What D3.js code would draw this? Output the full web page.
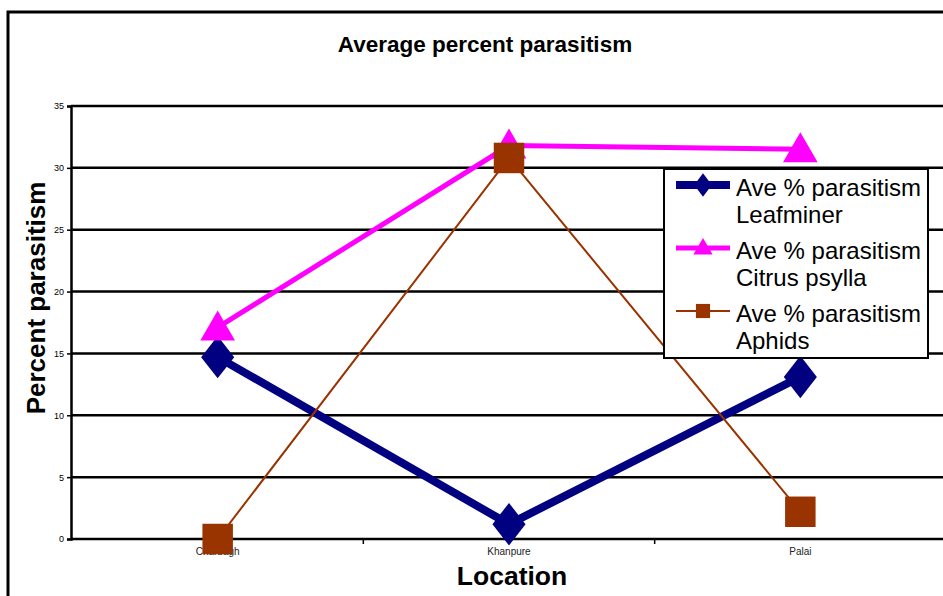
<!DOCTYPE html>
<html><head><meta charset="utf-8">
<script src="https://d3js.org/d3.v7.min.js"></script>
<style>body{margin:0;background:#fff;}svg{display:block;font-family:"Liberation Sans",Arial,sans-serif;}</style>
</head><body>
<svg id="c" width="943" height="596"></svg>
<script>
const categories = ["Charbagh","Khanpure","Palai"];
const leafminer = [14.7, 1.2, 13.1];
const citrusPsylla = [17.1, 31.8, 31.5];
const aphids = [0.0, 30.8, 2.2];
const yTicks = [0,5,10,15,20,25,30,35];
const seriesNames = ["Ave % parasitism Leafminer","Ave % parasitism Citrus psylla","Ave % parasitism Aphids"];

const svg = d3.select("#c");
// outer chart border
svg.append("rect").attr("x",8).attr("y",12).attr("width",960).attr("height",620)
  .attr("fill","none").attr("stroke","#000").attr("stroke-width",3);

const x = d3.scaleBand().domain(categories).range([72,946]);
const y = d3.scaleLinear().domain([0,35]).range([539,106]);

// gridlines
svg.append("g").selectAll("line").data(yTicks).join("line")
  .attr("x1",71).attr("x2",943).attr("y1",d=>y(d)).attr("y2",d=>y(d))
  .attr("stroke","#000").attr("stroke-width",2.5);

// y axis
const ya = svg.append("g").attr("transform","translate(71,0)")
  .call(d3.axisLeft(y).tickValues(yTicks).tickSize(4).tickPadding(3));
ya.select(".domain").attr("stroke","#000").attr("stroke-width",2.5);
ya.selectAll(".tick line").attr("stroke","#000").attr("stroke-width",1.5);
ya.selectAll("text").attr("font-size",9).attr("font-family","Liberation Sans, Arial").attr("fill","#000");

// x axis
const xa = svg.append("g").attr("transform","translate(0,539)")
  .call(d3.axisBottom(x).tickSize(0).tickPadding(9));
xa.select(".domain").remove();
xa.selectAll("text").attr("font-size",10).attr("font-family","Liberation Sans, Arial").attr("fill","#222");
// category boundary ticks
svg.append("g").selectAll("line").data(categories.slice(1)).join("line")
  .attr("x1",d=>x(d)).attr("x2",d=>x(d)).attr("y1",539).attr("y2",544)
  .attr("stroke","#000").attr("stroke-width",1.5);

const cx = c => x(c) + x.bandwidth()/2;
const line = d3.line().x(d=>cx(d.c)).y(d=>y(d.v));
const mk = arr => categories.map((c,i)=>({c, v:arr[i]}));

const series = [
  {name:seriesNames[0], data:mk(leafminer), color:"#000080", width:8, sym:d3.symbolDiamond, size:520},
  {name:seriesNames[1], data:mk(citrusPsylla), color:"#FF00FF", width:5, sym:d3.symbolTriangle, size:520},
  {name:seriesNames[2], data:mk(aphids), color:"#993300", width:2, sym:d3.symbolSquare, size:930}
];

// lines
series.forEach(s=>{
  svg.append("path").datum(s.data).attr("d",line).attr("fill","none")
    .attr("stroke",s.color).attr("stroke-width",s.width).attr("stroke-linejoin","miter");
});
// markers
series.forEach(s=>{
  svg.append("g").selectAll("path").data(s.data).join("path")
    .attr("d",d3.symbol().type(s.sym).size(s.size))
    .attr("transform",d=>{
      let dy = s.sym===d3.symbolTriangle ? 3 : 0;
      let sc = s.sym===d3.symbolDiamond ? "scale(1.35,1)" : "";
      return `translate(${cx(d.c)},${y(d.v)+dy}) ${sc}`;
    })
    .attr("fill",s.color);
});

// title
svg.append("text").attr("x",485).attr("y",52).attr("text-anchor","middle")
  .attr("font-size",22.5).attr("font-weight","bold").text("Average percent parasitism");
// axis titles
svg.append("text").attr("transform","translate(45,298) rotate(-90)").attr("text-anchor","middle")
  .attr("font-size",26).attr("font-weight","bold").text("Percent parasitism");
svg.append("text").attr("x",512).attr("y",585).attr("text-anchor","middle")
  .attr("font-size",26.5).attr("font-weight","bold").text("Location");

// legend
const lg = svg.append("g");
lg.append("rect").attr("x",664).attr("y",169).attr("width",264).attr("height",189)
  .attr("fill","#fff").attr("stroke","#000").attr("stroke-width",2);
series.forEach((s,i)=>{
  const yy = 185 + i*63;
  lg.append("line").attr("x1",676).attr("x2",730).attr("y1",yy).attr("y2",yy)
    .attr("stroke",s.color).attr("stroke-width",s.width);
  lg.append("path").attr("d",d3.symbol().type(s.sym).size(s.sym===d3.symbolSquare?200:160))
    .attr("transform",`translate(703,${yy + (s.sym===d3.symbolTriangle?1:0)}) ${s.sym===d3.symbolDiamond?"scale(1.3,1)":""}`)
    .attr("fill",s.color);
  const words = s.name.split(" ");
  const l1 = words.slice(0,3).join(" "), l2 = words.slice(3).join(" ");
  const t = lg.append("text").attr("x",736).attr("y",yy+11).attr("font-size",24);
  t.append("tspan").attr("x",736).text(l1);
  t.append("tspan").attr("x",736).attr("dy",27).text(l2);
});
</script>
</body></html>
